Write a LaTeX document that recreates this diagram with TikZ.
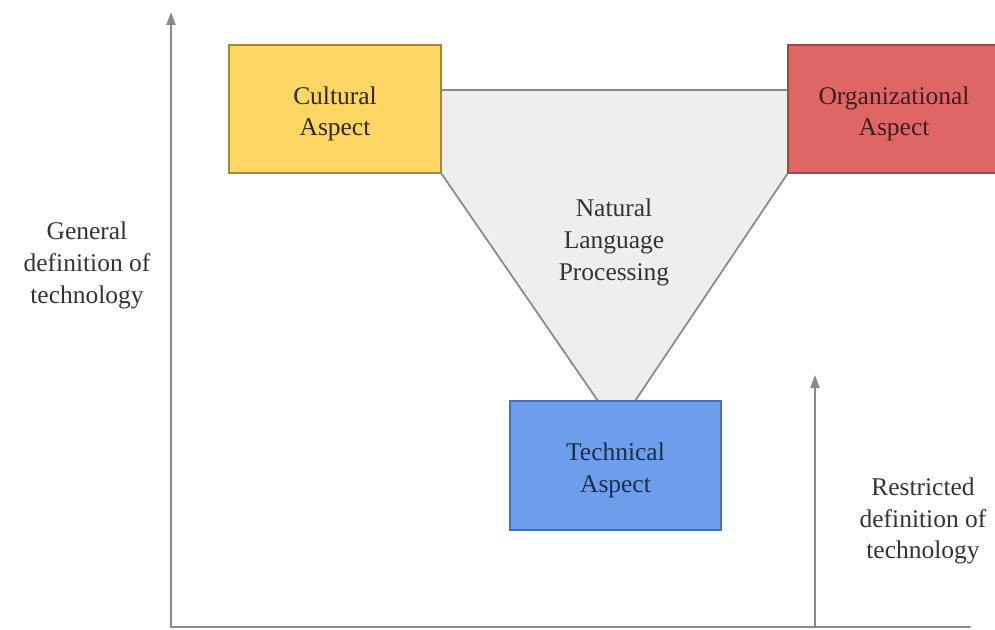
\documentclass[tikz,border=0pt]{standalone}
\usepackage{fontspec}
\setmainfont{Liberation Serif}
\usepackage{tikz}
\usetikzlibrary{arrows.meta}
\usepackage{xcolor}
\definecolor{culfill}{HTML}{FDD663}
\definecolor{culdraw}{HTML}{A08A3A}
\definecolor{orgfill}{HTML}{E06666}
\definecolor{orgdraw}{HTML}{A04848}
\definecolor{techfill}{HTML}{6D9EEB}
\definecolor{techdraw}{HTML}{4A70B0}
\definecolor{nlpfill}{HTML}{EEEEEE}
\definecolor{axisgray}{HTML}{8A8A8A}
\newcommand{\topgap}{\rule{0pt}{15.5pt}}

\begin{document}
\begin{tikzpicture}[>={Triangle[length=2.6mm,width=1.8mm]},
  font=\fontsize{14.5}{18}\selectfont,line cap=round,
  aspect/.style={rectangle,minimum width=4.24cm,minimum height=2.56cm,align=center,line width=0.9pt},
  axis/.style={axisgray,line width=1.3pt},
  caption/.style={align=center,text=black!80}]
\useasboundingbox (0,0) rectangle (19.9,12.58);
\begin{scope}
\clip (0,0) rectangle (19.9,12.58);
% grey wedge between the three aspects
\fill[nlpfill] (8.82,10.78) -- (15.76,10.78) -- (15.76,9.12) -- (12.70,4.56) -- (11.96,4.56) -- (8.82,9.12) -- cycle;
\draw[axisgray,line width=1pt] (8.82,10.78) -- (15.76,10.78);
\draw[axisgray,line width=1pt] (8.82,9.12) -- (11.96,4.56);
\draw[axisgray,line width=1pt] (15.76,9.12) -- (12.70,4.56);
\node[aspect,fill=culfill,draw=culdraw,text=black!70!culdraw] (cultural) at (6.70,10.40) {\topgap Cultural\\Aspect};
\node[aspect,fill=orgfill,draw=orgdraw,text=black!60!orgdraw] (organizational) at (17.88,10.40) {\topgap Organizational\\Aspect};
\node[aspect,minimum width=4.22cm,minimum height=2.58cm,fill=techfill,draw=techdraw,text=black!60!techdraw] (technical) at (12.31,3.27) {\topgap Technical\\Aspect};
\end{scope}
\node[caption] (nlp) at (12.28,7.73) {Natural\\Language\\Processing};
% axes
\coordinate (origin) at (3.42,0.04);
\coordinate (gentop) at (3.42,12.34);
\coordinate (xend) at (19.40,0.04);
\coordinate (resbase) at (16.30,0.04);
\coordinate (restop) at (16.30,5.08);
\draw[axis] (xend) -- (origin);
\draw[axis,->] (origin) -- (gentop);
\draw[axis,->] (resbase) -- (restop);
\node[caption] (general) at (1.74,7.27) {General\\definition of\\technology};
\node[caption] (restricted) at (18.46,2.16) {Restricted\\definition of\\technology};
\end{tikzpicture}
\end{document}
